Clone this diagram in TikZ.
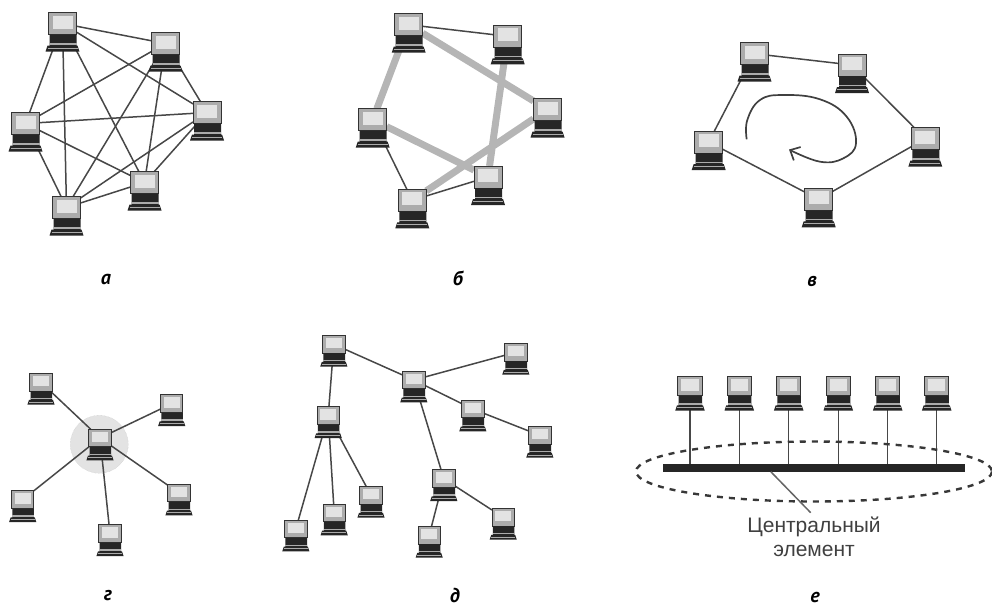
\documentclass[tikz,border=0pt]{standalone}
\usepackage{fontspec}
\setmainfont{Liberation Sans}
\newfontfamily\letterfont{PT Sans}
\usetikzlibrary{arrows.meta,backgrounds}

% monitor + keyboard, #1 = size, #2 = name, (#3,#4) = middle of the monitor
\newcommand{\comp}[4][1]{
  \begin{scope}[shift={(#3,#4)},scale=#1,transform shape]
    \node[monitor] (#2) at (0,0) {};
    \fill[screen] (-10,-8) rectangle (10,5);
    \fill[keys] (-13,11) -- (14,11) -- (14,22) -- (15,22) -- (17,28) -- (-17,28) -- (-15,22) -- (-13,22) -- cycle;
    \fill[gray!65] (-13,19.5) rectangle (14,21);
    \fill[gray!65] (-15,24) rectangle (15,24.7);
  \end{scope}
}

\begin{document}
\begin{tikzpicture}[x=1pt,y=-1pt]
    \tikzstyle{monitor}=[rectangle,draw=black!80,line width=1pt,fill=gray!65,minimum width=28pt,minimum height=22pt,inner sep=0pt,outer sep=0pt]
    \tikzstyle{screen}=[gray!22]
    \tikzstyle{keys}=[black!85]
    \tikzstyle{wire}=[draw=black!72,line width=1.5pt]
    \tikzstyle{fatwire}=[draw=gray!58,line width=7pt]
    \tikzstyle{sublabel}=[font=\letterfont\itshape\bfseries\fontsize{20}{20}\selectfont,inner sep=0pt]
    \useasboundingbox (0,0) rectangle (992,606);

    % a
    \comp{a1}{62.5}{23.5}
    \comp{a2}{165.5}{43.5}
    \comp{a3}{207}{112.5}
    \comp{a4}{25.5}{123.5}
    \comp{a5}{66.5}{207.5}
    \comp{a6}{144.5}{182.5}
    \node[sublabel] (la) at (106,279) {а};

    % b
    \comp{b1}{408.7}{24.7}
    \comp{b2}{507.7}{36.3}
    \comp{b3}{547.5}{109.5}
    \comp{b4}{372.7}{119.7}
    \comp{b5}{412.3}{200.3}
    \comp{b6}{488}{177}
    \node[sublabel] (lb) at (458,278) {б};

    % c
    \comp{c1}{754.5}{53.7}
    \comp{c2}{852}{65}
    \comp{c3}{925.3}{138.7}
    \comp{c4}{708.7}{142}
    \comp{c5}{818.7}{199.3}
    \node[sublabel] (lc) at (812,281) {в};

    % d (star)
    \comp[.8]{s0}{100}{438}
    \comp[.8]{s1}{41}{382.3}
    \comp[.8]{s2}{171.7}{403.7}
    \comp[.8]{s3}{179}{493}
    \comp[.8]{s4}{110}{533.7}
    \comp[.8]{s5}{22.7}{499.7}
    \node[sublabel] (ld) at (108,596) {г};

    % e (tree)
    \comp[.8]{t1}{333.8}{344.3}
    \comp[.8]{t2}{413.8}{380}
    \comp[.8]{t3}{515.8}{352.3}
    \comp[.8]{t4}{328.2}{415.7}
    \comp[.8]{t5}{472.8}{409}
    \comp[.8]{t6}{539.8}{435.3}
    \comp[.8]{t7}{443.8}{478.7}
    \comp[.8]{t8}{371}{495.3}
    \comp[.8]{t9}{334.2}{513}
    \comp[.8]{t10}{295.8}{529}
    \comp[.8]{t11}{429.2}{535.3}
    \comp[.8]{t12}{503.2}{517.3}
    \node[sublabel] (le) at (455,595) {д};

    % f (bus)
    \comp[.87]{e1}{690}{386.3}
    \comp[.87]{e2}{739.3}{386.3}
    \comp[.87]{e3}{788.7}{386.3}
    \comp[.87]{e4}{838.3}{386.3}
    \comp[.87]{e5}{887.7}{386.3}
    \comp[.87]{e6}{936.7}{386.3}
    \node[rectangle,fill=black!85,minimum width=302pt,minimum height=8pt,inner sep=0pt] (bus) at (814,467.5) {};
    \draw[black!78,line width=2.4pt,dash pattern=on 6pt off 6pt] (814,471.5) ellipse [x radius=178,y radius=30];
    \coordinate (tip) at (810.7,512.7);
    \draw[wire,draw=black!60] ([xshift=108pt]bus.south west) -- (tip);
    \node[align=center,text=black!75,font=\fontsize{21}{24}\selectfont,inner sep=0pt] (central) at (814,537) {Центральный\\элемент};
    \node[sublabel] (lf) at (815,597) {е};

    % ring direction
    \draw[black!75,line width=1.7pt,-{Straight Barb[length=8pt,width=15pt]}] plot[smooth,tension=.7] coordinates {(746.7,139.3) (747.3,120) (760,100) (783.3,95) (820,99.3) (846.7,116.7) (856,143.3) (843.3,158.3) (820,161.7) (789,149.5)};

    \begin{scope}[on background layer]
      \draw[wire] (a1) -- (a2) (a1) -- (a3) (a1) -- (a4) (a1) -- (a5) (a1) -- (a6);
      \draw[wire] (a2) -- (a3) (a2) -- (a4) (a2) -- (a5) (a2) -- (a6);
      \draw[wire] (a3) -- (a4) (a3) -- (a5) (a3) -- (a6);
      \draw[wire] (a4) -- (a5) (a4) -- (a6);
      \draw[wire] (a5) -- (a6);

      \draw[fatwire] (b1) -- (b4) (b1) -- (b3) (b2) -- (b6) (b3) -- (b5) (b4) -- (b6);
      \draw[wire] (b1) -- (b2) (b4) -- (b5) (b5) -- (b6);

      \draw[wire] (c1) -- (c2) (c2) -- (c3) (c3) -- (c5) (c5) -- (c4) (c4) -- (c1);

      \fill[gray!22,draw=gray!45,densely dotted] (99.3,444.3) circle (29);
      \draw[wire] (s0) -- (s1) (s0) -- (s2) (s0) -- (s3) (s0) -- (s4) (s0) -- (s5);

      \draw[wire] (t1) -- (t2) (t1) -- (t4) (t2) -- (t3) (t2) -- (t5) (t5) -- (t6) (t2) -- (t7);
      \draw[wire] (t4) -- (t8) (t4) -- (t9) (t4) -- (t10) (t7) -- (t11) (t7) -- (t12);

      \draw[wire] (e1) -- (e1|-bus) (e2) -- (e2|-bus) (e3) -- (e3|-bus);
      \draw[wire] (e4) -- (e4|-bus) (e5) -- (e5|-bus) (e6) -- (e6|-bus);
    \end{scope}
  \end{tikzpicture}
\end{document}
